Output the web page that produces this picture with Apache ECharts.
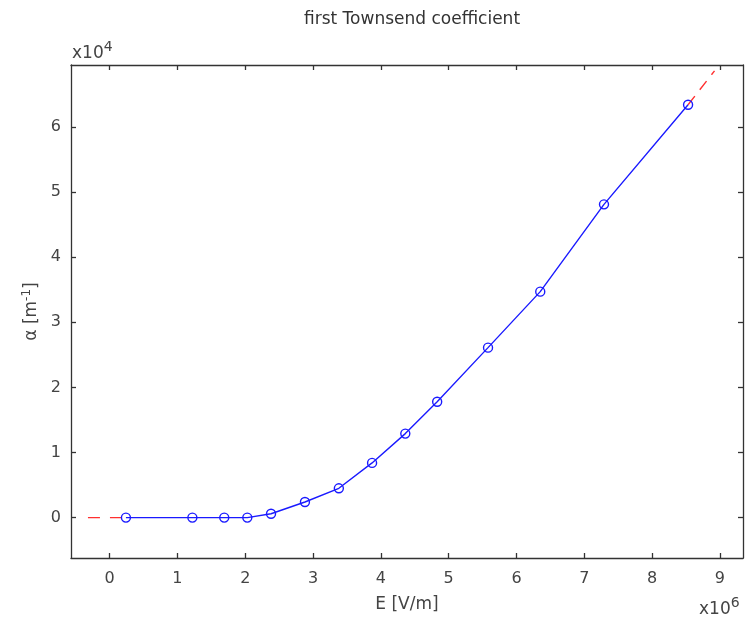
<!DOCTYPE html>
<html>
<head>
<meta charset="utf-8">
<script src="https://cdn.jsdelivr.net/npm/echarts@6/dist/echarts.min.js"></script>
<style>html,body{margin:0;padding:0;background:#fff;}#c{width:753px;height:623px;}</style>
</head>
<body>
<div id="c"></div>
<script>
// E field in units of 1e6 V/m, alpha in units of 1e4 1/m
var fieldE = [0.24, 1.22, 1.69, 2.03, 2.38, 2.88, 3.38, 3.87, 4.36, 4.83, 5.58, 6.35, 7.29, 8.53];
var alpha  = [0.00, 0.00, 0.00, 0.00, 0.06, 0.24, 0.45, 0.84, 1.29, 1.78, 2.61, 3.47, 4.81, 6.34];
var extrapLowE = [-0.32, 0.24];
var extrapLowA = [0.00, 0.00];
var extrapHighE = [8.53, 8.92];
var extrapHighA = [6.34, 6.86];
var xTicks = [0, 1, 2, 3, 4, 5, 6, 7, 8, 9];
var yTicks = [0, 1, 2, 3, 4, 5, 6];

function pairs(xs, ys) { return xs.map(function (x, i) { return [x, ys[i]]; }); }

var font = 'DejaVu Sans';
var axisLine = { show: true, onZero: false, lineStyle: { color: '#333', width: 1.3 } };
function ticks(vals) { return { show: true, inside: true, length: 5, lineStyle: { color: '#333', width: 1.3 }, customValues: vals }; }

var chart = echarts.init(document.getElementById('c'));
chart.setOption({
  animation: false,
  backgroundColor: '#fff',
  title: {
    text: 'first Townsend coefficient', left: 407, textAlign: 'center', top: 6,
    textStyle: { fontFamily: font, fontSize: 17, fontWeight: 'normal', color: '#333' }
  },
  grid: { left: 71, top: 65, right: 10, bottom: 65, containLabel: false },
  xAxis: [{
    type: 'value', min: -0.57, max: 9.34,
    name: 'E [V/m]', nameLocation: 'middle', nameGap: 38,
    nameTextStyle: { fontFamily: font, fontSize: 17, color: '#444' },
    axisLine: axisLine, axisTick: ticks(xTicks), splitLine: { show: false },
    axisLabel: {
      fontFamily: font, fontSize: 16, color: '#444', margin: 13,
      customValues: xTicks, formatter: function (v) { return String(v); }
    }
  }, {
    type: 'value', position: 'top', min: -0.57, max: 9.34,
    axisLine: axisLine, splitLine: { show: false },
    axisLabel: { show: false }, axisTick: ticks(xTicks)
  }],
  yAxis: [{
    type: 'value', min: -0.62, max: 6.95,
    name: '{a|α [m}{s|-1}{a|]}', nameLocation: 'middle', nameGap: 26, nameRotate: 90,
    nameTextStyle: {
      rich: {
        a: { fontFamily: font, fontSize: 17, color: '#444' },
        s: { fontFamily: font, fontSize: 12, color: '#444', verticalAlign: 'top', padding: [0, 0, 10, 0] }
      }
    },
    axisLine: axisLine, splitLine: { show: false },
    axisLabel: { fontFamily: font, fontSize: 16, color: '#444', margin: 10, customValues: yTicks },
    axisTick: ticks(yTicks)
  }, {
    type: 'value', position: 'right', min: -0.62, max: 6.95,
    axisLine: axisLine, splitLine: { show: false },
    axisLabel: { show: false }, axisTick: ticks(yTicks)
  }],
  graphic: [
    { type: 'text', left: 72, top: 40, style: { text: '{a|x10}{s|4}', rich: {
      a: { fontFamily: font, fontSize: 17, fill: '#444' },
      s: { fontFamily: font, fontSize: 14, fill: '#444', verticalAlign: 'top', padding: [0, 0, 14, 0] } } } },
    { type: 'text', left: 699, top: 596, style: { text: '{a|x10}{s|6}', rich: {
      a: { fontFamily: font, fontSize: 17, fill: '#444' },
      s: { fontFamily: font, fontSize: 14, fill: '#444', verticalAlign: 'top', padding: [0, 0, 14, 0] } } } }
  ],
  series: [{
    type: 'line', data: pairs(extrapLowE, extrapLowA), symbol: 'none', z: 1,
    lineStyle: { color: '#ff3030', width: 1.4, type: [12, 10] }
  }, {
    type: 'line', data: pairs(extrapHighE, extrapHighA), symbol: 'none', z: 1,
    lineStyle: { color: '#ff3030', width: 1.4, type: [11, 8] }
  }, {
    type: 'line', data: pairs(fieldE, alpha), z: 2,
    symbol: 'circle', symbolSize: 9,
    itemStyle: { color: 'rgba(0,0,0,0)', borderColor: '#1a1aff', borderWidth: 1.4 },
    lineStyle: { color: '#1a1aff', width: 1.4 }
  }]
});
</script>
</body>
</html>
